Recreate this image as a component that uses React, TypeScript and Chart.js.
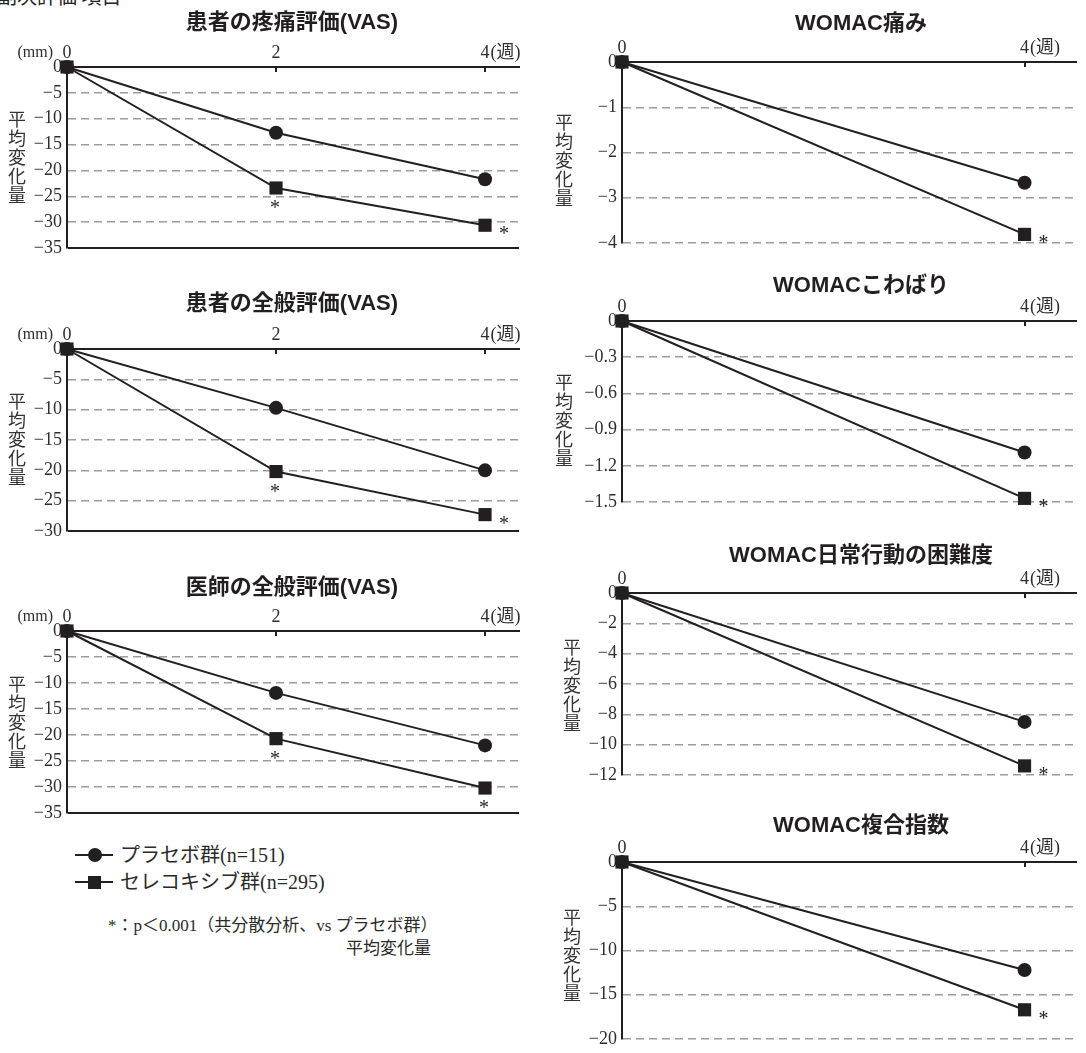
import React, { useEffect, useRef } from "react";
import { Chart, registerables } from "chart.js";

Chart.register(...registerables);

// ---------------- data ----------------
const weeksVAS = [0, 2, 4];
const weeksWOMAC = [0, 4];
const xTicksVAS = [0, 2, 4];
const xTicksWOMAC = [0, 4];
const weekUnit = "(週)";
const mmUnit = "(mm)";

const seriesNames = ["プラセボ群(n=151)", "セレコキシブ群(n=295)"];

// 患者の疼痛評価(VAS)
const painVasPlacebo = [0, -12.7, -21.7];
const painVasCelecoxib = [0, -23.4, -30.6];
const painVasTicks = [0, -5, -10, -15, -20, -25, -30, -35];
const painVasSig = ["", "below", "right"];

// 患者の全般評価(VAS)
const ptGlobalPlacebo = [0, -9.7, -20.0];
const ptGlobalCelecoxib = [0, -20.2, -27.3];
const ptGlobalTicks = [0, -5, -10, -15, -20, -25, -30];
const ptGlobalSig = ["", "below", "right"];

// 医師の全般評価(VAS)
const drGlobalPlacebo = [0, -11.9, -22.0];
const drGlobalCelecoxib = [0, -20.7, -30.2];
const drGlobalTicks = [0, -5, -10, -15, -20, -25, -30, -35];
const drGlobalSig = ["", "below", "below"];

// WOMAC痛み
const womacPainPlacebo = [0, -2.67];
const womacPainCelecoxib = [0, -3.81];
const womacPainTicks = [0, -1, -2, -3, -4];
const womacPainSig = ["", "right"];

// WOMACこわばり
const womacStiffPlacebo = [0, -1.09];
const womacStiffCelecoxib = [0, -1.47];
const womacStiffTicks = [0, -0.3, -0.6, -0.9, -1.2, -1.5];
const womacStiffSig = ["", "right"];

// WOMAC日常行動の困難度
const womacFuncPlacebo = [0, -8.5];
const womacFuncCelecoxib = [0, -11.4];
const womacFuncTicks = [0, -2, -4, -6, -8, -10, -12];
const womacFuncSig = ["", "right"];

// WOMAC複合指数
const womacTotalPlacebo = [0, -12.2];
const womacTotalCelecoxib = [0, -16.7];
const womacTotalTicks = [0, -5, -10, -15, -20];
const womacTotalSig = ["", "right"];

const yAxisTitle = "平均変化量";
const headerText = "副次評価 項目";
const footnote1 = "*：p＜0.001（共分散分析、vs プラセボ群）";
const footnote2 = "平均変化量";

// ---------------- styles / layout ----------------
const DARK = "#231f20";
const GRID = "#9c9c9c";
const TICK_COLOR = "#2e2e2e";
const SERIF = '"Liberation Serif", "Noto Sans CJK JP", serif';
const TITLE_FONT = '"Liberation Sans", "Noto Sans CJK JP", sans-serif';
const JP = '"Noto Sans CJK JP", sans-serif';
const X_H = 45;
const PAD_B = 16;
const TICK_SIZE = 18;
const TICK_PAD = 3;

type Panel = {
  title: string;
  weeks: number[];
  placebo: number[];
  celecoxib: number[];
  sig: string[];
  yTicks: number[];
  xTicks: number[];
  xMax: number;
  showMm: boolean;
  solidBottom: boolean;
  left: boolean;
  chartTop: number;
  chartBottom: number;
  titleX: number;
  titleY: number;
  yTitleX: number;
  yTitleY: number;
};

const LEFT = { canvasLeft: 0, canvasWidth: 540, yW: 67, padRight: 21 };
const RIGHT = { canvasLeft: 540, canvasWidth: 546, yW: 82, padRight: 0 };

const panels: Panel[] = [
  { title: "患者の疼痛評価(VAS)", weeks: weeksVAS, placebo: painVasPlacebo, celecoxib: painVasCelecoxib, sig: painVasSig, yTicks: painVasTicks, xTicks: xTicksVAS, xMax: 4.325, showMm: true, solidBottom: true, left: true, chartTop: 67, chartBottom: 248, titleX: 292, titleY: 22, yTitleX: 17, yTitleY: 158 },
  { title: "患者の全般評価(VAS)", weeks: weeksVAS, placebo: ptGlobalPlacebo, celecoxib: ptGlobalCelecoxib, sig: ptGlobalSig, yTicks: ptGlobalTicks, xTicks: xTicksVAS, xMax: 4.325, showMm: true, solidBottom: true, left: true, chartTop: 349, chartBottom: 531, titleX: 292, titleY: 303, yTitleX: 17, yTitleY: 440 },
  { title: "医師の全般評価(VAS)", weeks: weeksVAS, placebo: drGlobalPlacebo, celecoxib: drGlobalCelecoxib, sig: drGlobalSig, yTicks: drGlobalTicks, xTicks: xTicksVAS, xMax: 4.325, showMm: true, solidBottom: true, left: true, chartTop: 631, chartBottom: 813, titleX: 292, titleY: 587, yTitleX: 17, yTitleY: 723 },
  { title: "WOMAC痛み", weeks: weeksWOMAC, placebo: womacPainPlacebo, celecoxib: womacPainCelecoxib, sig: womacPainSig, yTicks: womacPainTicks, xTicks: xTicksWOMAC, xMax: 4.518, showMm: false, solidBottom: false, left: false, chartTop: 62, chartBottom: 243, titleX: 861, titleY: 23, yTitleX: 564, yTitleY: 161 },
  { title: "WOMACこわばり", weeks: weeksWOMAC, placebo: womacStiffPlacebo, celecoxib: womacStiffCelecoxib, sig: womacStiffSig, yTicks: womacStiffTicks, xTicks: xTicksWOMAC, xMax: 4.518, showMm: false, solidBottom: false, left: false, chartTop: 321, chartBottom: 502, titleX: 861, titleY: 285, yTitleX: 564, yTitleY: 421 },
  { title: "WOMAC日常行動の困難度", weeks: weeksWOMAC, placebo: womacFuncPlacebo, celecoxib: womacFuncCelecoxib, sig: womacFuncSig, yTicks: womacFuncTicks, xTicks: xTicksWOMAC, xMax: 4.518, showMm: false, solidBottom: false, left: false, chartTop: 593, chartBottom: 775, titleX: 861, titleY: 555, yTitleX: 572, yTitleY: 686 },
  { title: "WOMAC複合指数", weeks: weeksWOMAC, placebo: womacTotalPlacebo, celecoxib: womacTotalCelecoxib, sig: womacTotalSig, yTicks: womacTotalTicks, xTicks: xTicksWOMAC, xMax: 4.518, showMm: false, solidBottom: false, left: false, chartTop: 862, chartBottom: 1039, titleX: 861, titleY: 825, yTitleX: 572, yTitleY: 956 },
];

function fmtTick(v: number): string {
  if (Math.abs(v) < 1e-9) return "0";
  const a = Math.round(Math.abs(v) * 100) / 100;
  return (v < 0 ? "\u2212" : "") + String(a);
}

function makeAnnotPlugin(p: Panel) {
  return {
    id: "annot",
    afterDatasetsDraw(chart: any) {
      const ctx = chart.ctx as CanvasRenderingContext2D;
      const area = chart.chartArea;
      const xs = chart.scales.x;
      const ys = chart.scales.y;
      ctx.save();
      // small inner ticks under top axis
      ctx.strokeStyle = DARK;
      ctx.lineWidth = 2;
      p.xTicks.forEach((v) => {
        if (v === 0) return;
        const px = Math.round(xs.getPixelForValue(v));
        ctx.beginPath();
        ctx.moveTo(px, area.top);
        ctx.lineTo(px, area.top + 5);
        ctx.stroke();
      });
      const labY = area.top - TICK_PAD - (TICK_SIZE * 1.2) / 2;
      ctx.fillStyle = TICK_COLOR;
      ctx.font = `${TICK_SIZE}px ${SERIF}`;
      ctx.textBaseline = "middle";
      // unit after the last week label
      const lastV = p.xTicks[p.xTicks.length - 1];
      const lastPx = xs.getPixelForValue(lastV);
      const w = ctx.measureText(String(lastV)).width;
      ctx.textAlign = "left";
      ctx.fillText(weekUnit, lastPx + w / 2 + 1, labY);
      if (p.showMm) {
        ctx.font = `16px ${SERIF}`;
        ctx.textAlign = "right";
        ctx.fillText(mmUnit, area.left - 14, labY);
      }
      // significance asterisks
      ctx.fillStyle = DARK;
      ctx.font = `20px ${SERIF}`;
      ctx.textAlign = "center";
      ctx.textBaseline = "alphabetic";
      p.sig.forEach((s, i) => {
        if (!s) return;
        const px = xs.getPixelForValue(p.weeks[i]);
        const py = ys.getPixelForValue(p.celecoxib[i]);
        let cx = px, cy = py;
        if (s === "below") { cx = px - 1; cy = py + 16; }
        else { cx = px + 19; cy = py + 5; }
        ctx.fillText("*", cx, cy + 10);
      });
      ctx.restore();
    },
  };
}

function PanelChart({ p }: { p: Panel }) {
  const ref = useRef<HTMLCanvasElement>(null);
  const g = p.left ? LEFT : RIGHT;
  const height = X_H + (p.chartBottom - p.chartTop) + PAD_B;
  const top = p.chartTop - X_H;
  useEffect(() => {
    const yMin = p.yTicks[p.yTicks.length - 1];
    const chart = new Chart(ref.current as HTMLCanvasElement, {
      type: "line",
      data: {
        datasets: [
          {
            label: seriesNames[1],
            data: p.weeks.map((w, i) => ({ x: w, y: p.celecoxib[i] })),
            borderColor: DARK,
            backgroundColor: DARK,
            borderWidth: 2,
            pointStyle: "rect",
            pointRadius: 9.3,
            pointHoverRadius: 9.3,
            pointBorderWidth: 0,
            tension: 0,
            clip: false,
          },
          {
            label: seriesNames[0],
            data: p.weeks.map((w, i) => ({ x: w, y: p.placebo[i] })),
            borderColor: DARK,
            backgroundColor: DARK,
            borderWidth: 2,
            pointStyle: "circle",
            pointRadius: 7,
            pointHoverRadius: 7,
            pointBorderWidth: 0,
            tension: 0,
            clip: false,
          },
        ],
      },
      options: {
        responsive: false,
        animation: false,
        devicePixelRatio: 1,
        events: [],
        layout: { padding: { left: 0, top: 0, right: g.padRight, bottom: PAD_B } },
        plugins: { legend: { display: false }, tooltip: { enabled: false }, title: { display: false } },
        scales: {
          x: {
            type: "linear",
            position: "top",
            min: 0,
            max: p.xMax,
            afterBuildTicks: (s: any) => { s.ticks = p.xTicks.map((v) => ({ value: v })); },
            afterFit: (s: any) => { s.height = X_H; },
            grid: { display: false, drawTicks: false },
            border: { display: true, color: DARK, width: 2 },
            ticks: {
              padding: TICK_PAD,
              autoSkip: false,
              maxRotation: 0,
              color: TICK_COLOR,
              font: { family: SERIF, size: TICK_SIZE },
              callback: (v: any) => String(v),
            },
          },
          y: {
            type: "linear",
            min: yMin,
            max: 0,
            afterBuildTicks: (s: any) => { s.ticks = p.yTicks.map((v) => ({ value: v })); },
            afterFit: (s: any) => { s.width = g.yW; },
            grid: {
              display: true,
              drawTicks: false,
              color: (c: any) => {
                const v = c.tick ? c.tick.value : 1;
                if (Math.abs(v) < 1e-9) return "rgba(0,0,0,0)";
                if (p.solidBottom && Math.abs(v - yMin) < 1e-9) return DARK;
                return GRID;
              },
              lineWidth: (c: any) => {
                const v = c.tick ? c.tick.value : 1;
                if (p.solidBottom && Math.abs(v - yMin) < 1e-9) return 2;
                return 1.5;
              },
            },
            border: {
              display: true,
              color: DARK,
              width: 2,
              dash: (c: any) => {
                const v = c.tick ? c.tick.value : 1;
                if (p.solidBottom && Math.abs(v - yMin) < 1e-9) return [];
                return [8, 5];
              },
            },
            ticks: {
              padding: 5,
              color: TICK_COLOR,
              font: { family: SERIF, size: TICK_SIZE },
              callback: (v: any) => fmtTick(Number(v)),
            },
          },
        },
      } as any,
      plugins: [makeAnnotPlugin(p)],
    });
    return () => chart.destroy();
  }, []);
  return (
    <canvas
      ref={ref}
      width={g.canvasWidth}
      height={height}
      style={{ position: "absolute", left: g.canvasLeft, top, width: g.canvasWidth, height, display: "block" }}
    />
  );
}

function Texts({ p }: { p: Panel }) {
  return (
    <>
      <div
        style={{
          position: "absolute",
          left: p.titleX,
          top: p.titleY,
          transform: "translate(-50%, -50%)",
          whiteSpace: "nowrap",
          fontFamily: TITLE_FONT,
          fontWeight: 700,
          fontSize: 22,
          lineHeight: "24px",
          color: DARK,
        }}
      >
        {p.title}
      </div>
      <div
        style={{
          position: "absolute",
          left: p.yTitleX,
          top: p.yTitleY,
          transform: "translate(-50%, -50%)",
          writingMode: "vertical-rl",
          textOrientation: "upright",
          fontFamily: JP,
          fontSize: 18,
          lineHeight: "18px",
          letterSpacing: "1px",
          color: "#333",
        }}
      >
        {yAxisTitle}
      </div>
    </>
  );
}

function Legend() {
  const rowStyle = (y: number): React.CSSProperties => ({ position: "absolute", left: 0, top: y, width: 400, height: 0 });
  const text = (y: number, s: string) => (
    <div
      style={{
        position: "absolute",
        left: 120,
        top: y,
        transform: "translateY(-50%)",
        whiteSpace: "nowrap",
        fontFamily: SERIF,
        fontSize: 20,
        lineHeight: "22px",
        color: "#2a2a2a",
      }}
    >
      {s}
    </div>
  );
  return (
    <>
      <div style={rowStyle(855)}>
        <div style={{ position: "absolute", left: 75, top: -1, width: 38, height: 2, background: DARK }} />
        <div style={{ position: "absolute", left: 88, top: -7, width: 14, height: 14, borderRadius: 7, background: DARK }} />
      </div>
      {text(855, seriesNames[0])}
      <div style={rowStyle(882)}>
        <div style={{ position: "absolute", left: 75, top: -1, width: 38, height: 2, background: DARK }} />
        <div style={{ position: "absolute", left: 88, top: -6.5, width: 13, height: 13, background: DARK }} />
      </div>
      {text(882, seriesNames[1])}
      <div
        style={{
          position: "absolute",
          left: 108,
          top: 926,
          transform: "translateY(-50%)",
          whiteSpace: "nowrap",
          fontFamily: SERIF,
          fontSize: 17,
          lineHeight: "20px",
          color: "#2a2a2a",
        }}
      >
        {footnote1}
      </div>
      <div
        style={{
          position: "absolute",
          left: 346,
          top: 949,
          transform: "translateY(-50%)",
          whiteSpace: "nowrap",
          fontFamily: SERIF,
          fontSize: 17,
          lineHeight: "20px",
          color: "#2a2a2a",
        }}
      >
        {footnote2}
      </div>
    </>
  );
}

export default function App() {
  return (
    <div
      style={{
        position: "absolute",
        left: 0,
        top: 0,
        width: 1086,
        height: 1053,
        overflow: "hidden",
        background: "#ffffff",
      }}
    >
      <div
        style={{
          position: "absolute",
          left: -3,
          top: -14,
          fontFamily: JP,
          fontSize: 20,
          lineHeight: "20px",
          whiteSpace: "nowrap",
          color: "#222",
        }}
      >
        {headerText}
      </div>
      {panels.map((p, i) => (
        <PanelChart key={"c" + i} p={p} />
      ))}
      {panels.map((p, i) => (
        <Texts key={"t" + i} p={p} />
      ))}
      <Legend />
    </div>
  );
}
